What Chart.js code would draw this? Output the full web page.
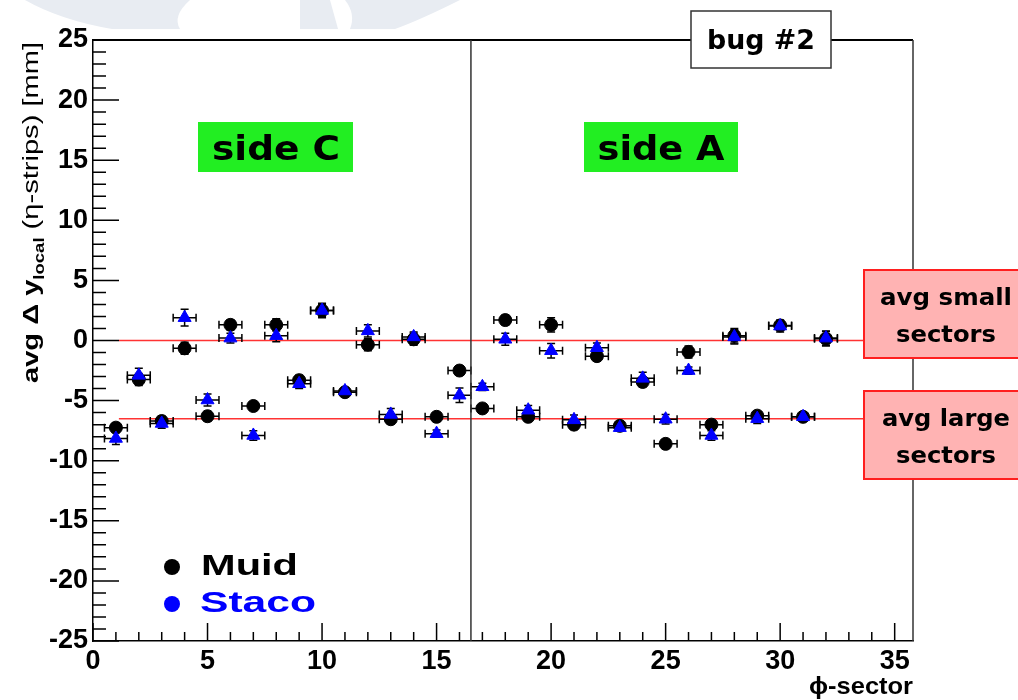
<!DOCTYPE html>
<html><head><meta charset="utf-8">
<script src="https://cdn.jsdelivr.net/npm/chart.js@4.4.0/dist/chart.umd.min.js"></script>
<style>html,body{margin:0;padding:0;background:#fff}canvas{display:block}</style>
</head><body>
<canvas id="c" width="1018" height="700"></canvas>
<script>
// phi sectors and mean delta-y per sector for the two muon reconstructions
const sectors=[1,2,3,4,5,6,7,8,9,10,11,12,13,14,15,16,17,18,19,20,21,22,23,24,25,26,27,28,29,30,31,32];
const muid=[-7.25,-3.25,-6.7,-0.65,-6.3,1.3,-5.45,1.3,-3.3,2.5,-4.3,-0.35,-6.55,0.1,-6.35,-2.5,-5.65,1.7,-6.35,1.3,-7.0,-1.3,-7.1,-3.45,-8.6,-0.95,-7.0,0.4,-6.25,1.25,-6.35,0.15];
const muidErr=[0.4,0.5,0.4,0.5,0.4,0.4,0.3,0.5,0.4,0.5,0.3,0.5,0.4,0.5,0.3,0.4,0.3,0.4,0.3,0.6,0.4,0.4,0.3,0.4,0.3,0.5,0.3,0.6,0.3,0.4,0.3,0.6];
const staco=[-8.15,-2.9,-6.9,1.9,-4.95,0.2,-7.9,0.4,-3.6,2.5,-4.2,0.8,-6.15,0.3,-7.75,-4.55,-3.85,0.1,-5.8,-0.85,-6.6,-0.6,-7.25,-3.15,-6.55,-2.5,-7.9,0.3,-6.5,1.2,-6.35,0.2];
const stacoErr=[0.5,0.6,0.4,0.7,0.5,0.4,0.4,0.5,0.4,0.6,0.3,0.5,0.5,0.4,0.3,0.6,0.3,0.5,0.4,0.6,0.4,0.4,0.3,0.5,0.4,0.3,0.4,0.6,0.4,0.5,0.3,0.6];
const xErr=0.5;
const avgSmall=0, avgLarge=-6.5;
const avgFrom=1.13, avgTo=34;
const sideSplit=16.5;
const xTicks=[0,5,10,15,20,25,30,35];
const yTicks=[-25,-20,-15,-10,-5,0,5,10,15,20,25];

const ctx=document.getElementById('c').getContext('2d');

function fit(c,txt,x,y,w,font,align){
 c.font=font;
 const k=w/c.measureText(txt).width;
 c.save();c.translate(x,y);c.scale(k,1);c.textAlign=align||'left';c.textBaseline='alphabetic';c.fillText(txt,0,0);c.restore();
}

const rootStyle={
 id:'rootStyle',
 beforeDraw(chart){
  const c=chart.ctx;
  c.save();
  c.fillStyle='#fff';c.fillRect(0,0,chart.width,chart.height);
  // faint header swoosh
  c.fillStyle='#e8ecf2';
  c.beginPath();c.moveTo(25,0);c.lineTo(190,0);c.quadraticCurveTo(172,16,180,29);c.lineTo(112,29);c.quadraticCurveTo(60,20,25,0);c.fill();
  c.beginPath();c.moveTo(300,0);c.lineTo(330,0);c.lineTo(338,29);c.lineTo(300,29);c.fill();
  c.beginPath();c.moveTo(345,0);c.lineTo(460,0);c.quadraticCurveTo(420,20,395,29);c.lineTo(350,29);c.quadraticCurveTo(356,14,345,0);c.fill();
  c.fillStyle='#fff';c.fillRect(0,29,chart.width,chart.height-29);
  c.restore();
 },
 beforeDatasetDraw(chart,args){
  const ds=chart.data.datasets[args.index];
  if(!ds.err)return;
  const c=chart.ctx,xs=chart.scales.x,ys=chart.scales.y;
  c.save();c.strokeStyle='#000';c.lineWidth=1.5;
  ds.data.forEach((p,i)=>{
   const x0=xs.getPixelForValue(p.x-xErr),x1=xs.getPixelForValue(p.x+xErr),xc=xs.getPixelForValue(p.x);
   const yc=ys.getPixelForValue(p.y),y0=ys.getPixelForValue(p.y-ds.err[i]),y1=ys.getPixelForValue(p.y+ds.err[i]);
   c.beginPath();
   c.moveTo(x0,yc);c.lineTo(x1,yc);
   c.moveTo(x0,yc-4);c.lineTo(x0,yc+4);c.moveTo(x1,yc-4);c.lineTo(x1,yc+4);
   c.moveTo(xc,y0);c.lineTo(xc,y1);
   c.moveTo(xc-4,y0);c.lineTo(xc+4,y0);c.moveTo(xc-4,y1);c.lineTo(xc+4,y1);
   c.stroke();
  });
  c.restore();
 },
 afterDraw(chart){
  const c=chart.ctx,xs=chart.scales.x,ys=chart.scales.y,a=chart.chartArea;
  c.save();
  // inward ticks
  c.strokeStyle='#000';c.lineWidth=1.5;c.beginPath();
  for(let v=-25;v<=25;v++){const y=ys.getPixelForValue(v),l=v%5===0?26:13;c.moveTo(a.left,y);c.lineTo(a.left+l,y);}
  for(let v=0;v<=35;v++){const x=xs.getPixelForValue(v),l=v%5===0?18:9;c.moveTo(x,a.bottom);c.lineTo(x,a.bottom-l);}
  c.stroke();
  // frame top/right and side divider
  c.strokeStyle='#000';c.lineWidth=2;
  c.beginPath();c.moveTo(a.left,a.top);c.lineTo(a.right,a.top);c.stroke();
  c.strokeStyle='#333';c.lineWidth=1.5;
  c.beginPath();c.moveTo(a.right,a.top);c.lineTo(a.right,a.bottom);c.stroke();
  const xs16=xs.getPixelForValue(sideSplit);
  c.beginPath();c.moveTo(xs16,a.top);c.lineTo(xs16,a.bottom);c.stroke();

  // green side labels
  c.fillStyle='#22ee22';c.fillRect(198,122,155,50);c.fillRect(584,122,154,50);
  c.fillStyle='#000';
  fit(c,'side C',276,160,128,'bold 34px "DejaVu Sans"','center');
  fit(c,'side A',661,160,127,'bold 34px "DejaVu Sans"','center');

  // bug box
  c.fillStyle='#fff';c.fillRect(691,11,140,57);
  c.strokeStyle='#333';c.lineWidth=1.5;c.strokeRect(691,11,140,57);
  c.fillStyle='#000';
  fit(c,'bug #2',761,49,108,'bold 27px "DejaVu Sans"','center');

  // average boxes
  c.fillStyle='#ffb3b3';c.strokeStyle='#ff1f1f';c.lineWidth=2;
  c.fillRect(864,270,160,88);c.strokeRect(864,270,160,88);
  c.fillRect(864,391,160,88);c.strokeRect(864,391,160,88);
  c.fillStyle='#000';
  fit(c,'avg small',946,305,132,'bold 23px "DejaVu Sans"','center');
  fit(c,'sectors',946,342,100,'bold 23px "DejaVu Sans"','center');
  fit(c,'avg large',946,426,128,'bold 23px "DejaVu Sans"','center');
  fit(c,'sectors',946,463,100,'bold 23px "DejaVu Sans"','center');

  // legend
  c.fillStyle='#000';c.beginPath();c.arc(172,567,8,0,Math.PI*2);c.fill();
  fit(c,'Muid',201,575,97,'bold 29px "Liberation Sans"','left');
  c.fillStyle='#0000ff';c.beginPath();c.arc(172,604,8,0,Math.PI*2);c.fill();
  fit(c,'Staco',200,612,116,'bold 29px "Liberation Sans"','left');

  // x title
  c.fillStyle='#000';
  fit(c,'ϕ-sector',913,694,104,'bold 24px "Liberation Sans"','right');

  // y title with subscript
  c.translate(38,383);c.rotate(-Math.PI/2);
  const parts=[['avg Δ y','bold 22px "Liberation Sans"',0],['local','bold 14px "Liberation Sans"',6],[' (η-strips) [mm]','22px "Liberation Sans"',0]];
  let tot=0;parts.forEach(p=>{c.font=p[1];tot+=c.measureText(p[0]).width;});
  const k=341/tot;c.scale(k,1);
  let px=0;c.textAlign='left';c.textBaseline='alphabetic';
  parts.forEach(p=>{c.font=p[1];c.fillText(p[0],px,p[2]);px+=c.measureText(p[0]).width;});
  c.restore();
 }
};

const tickFont={family:'Liberation Sans',weight:'bold',size:27};
new Chart(ctx,{
 type:'scatter',
 data:{datasets:[
  {label:'Staco',data:sectors.map((s,i)=>({x:s,y:staco[i]})),err:stacoErr,pointStyle:'triangle',pointRadius:7.5,backgroundColor:'#0000ff',borderColor:'#0000ff',borderWidth:1,order:1},
  {label:'Muid',data:sectors.map((s,i)=>({x:s,y:muid[i]})),err:muidErr,pointStyle:'circle',pointRadius:6.5,backgroundColor:'#000',borderColor:'#000',borderWidth:1,order:2},
  {type:'line',label:'avg small',data:[{x:avgFrom,y:avgSmall},{x:avgTo,y:avgSmall}],borderColor:'#ff3333',borderWidth:1.5,pointRadius:0,order:3},
  {type:'line',label:'avg large',data:[{x:avgFrom,y:avgLarge},{x:avgTo,y:avgLarge}],borderColor:'#ff3333',borderWidth:1.5,pointRadius:0,order:3}
 ]},
 options:{
  responsive:false,animation:false,
  layout:{padding:{top:40,right:105,left:0,bottom:0}},
  plugins:{legend:{display:false},tooltip:{enabled:false}},
  scales:{
   x:{type:'linear',min:0,max:35.8,
    afterFit:s=>{s.height=59;},
    afterBuildTicks:s=>{s.ticks=xTicks.map(v=>({value:v}));},
    grid:{display:false,drawTicks:false},border:{display:true,color:'#000',width:1.5},
    ticks:{autoSkip:false,maxRotation:0,padding:4,color:'#000',font:tickFont}},
   y:{type:'linear',min:-25,max:25,
    afterFit:s=>{s.width=93;},
    afterBuildTicks:s=>{s.ticks=yTicks.map(v=>({value:v}));},
    grid:{display:false,drawTicks:false},border:{display:true,color:'#000',width:1.5},
    ticks:{autoSkip:false,padding:5,color:'#000',font:tickFont}}
  }
 },
 plugins:[rootStyle]
});
</script>
</body></html>
